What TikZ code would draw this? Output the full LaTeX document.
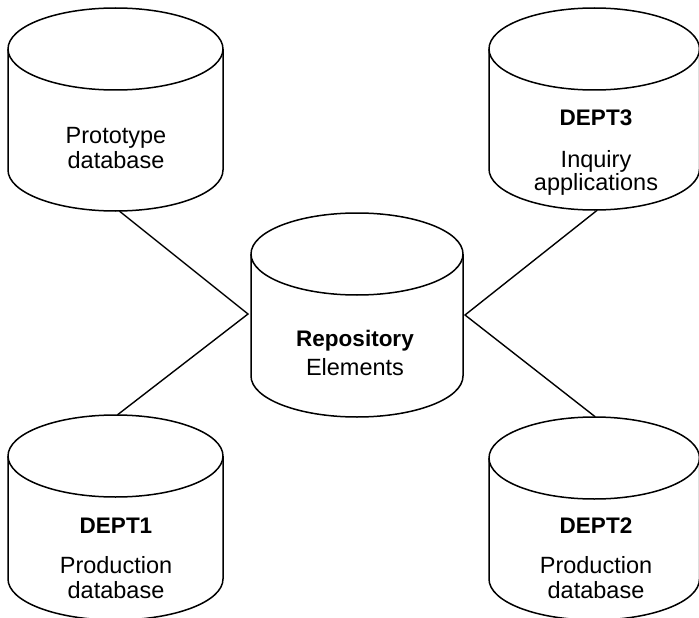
\documentclass[tikz,border=0pt]{standalone}
\usepackage{fontspec}
\setmainfont{Liberation Sans}
\begin{document}
\begin{tikzpicture}[x=1pt,y=-1pt,
  drumline/.style={line width=1.5pt, line join=round},
  link/.style={line width=1.4pt},
  label/.style={anchor=base, inner sep=0pt, font=\fontsize{23.5}{27}\selectfont},
  title/.style={label, font=\fontsize{22.5}{26}\selectfont\bfseries}]
\useasboundingbox (0,0) rectangle (699,618);

% \drum{name}{left}{right}{top}{bottom}: a database drum with an invisible
% node of the same extent, so that connectors can end on its anchors
\newcommand{\drum}[5]{%
  \pgfmathsetmacro\drx{(#3-#2)/2}%
  \pgfmathsetmacro\dcx{(#3+#2)/2}%
  \pgfmathsetmacro\dcy{(#4+#5)/2}%
  \pgfmathsetmacro\dw{#3-#2}%
  \pgfmathsetmacro\dh{#5-#4}%
  \node[inner sep=0pt, minimum width=\dw pt, minimum height=\dh pt] (#1) at (\dcx,\dcy) {};
  \draw[drumline, fill=white] (#2,#4+41) -- (#2,#5-41)
     arc[start angle=180, end angle=360, x radius=\drx pt, y radius=41pt]
     -- (#3,#4+41);
  \draw[drumline] (\dcx,#4+41) ellipse [x radius=\drx pt, y radius=41pt];
}

\drum{proto}{8}{223}{8}{211}
\drum{dept3}{489}{699.5}{8}{210}
\drum{repo}{251}{463}{213}{417}
\drum{dept1}{8}{223}{415}{620}
\drum{dept2}{489}{699.5}{417}{620}

% text inside the drums
\node[label] (protoA) at (116,143) {Prototype};
\node[label] (protoB) at (116,168) {database};

\node[title] (dept3A) at (596,125) {DEPT3};
\node[label] (dept3B) at (596,167) {Inquiry};
\node[label] (dept3C) at (596,190) {applications};

\node[title] (repoA) at (355,346) {Repository};
\node[label] (repoB) at (355,375) {Elements};

\node[title] (dept1A) at (116,533) {DEPT1};
\node[label] (dept1B) at (116,573) {Production};
\node[label] (dept1C) at (116,598) {database};

\node[title] (dept2A) at (596,533) {DEPT2};
\node[label] (dept2B) at (596,573) {Production};
\node[label] (dept2C) at (596,598) {database};

% connectors meeting just beside the central drum
\coordinate (ltip) at (248,314);
\coordinate (rtip) at (465,315);
\draw[link] ([xshift=4pt]proto.south) -- (ltip) -- ([xshift=2pt]dept1.north);
\draw[link] ([xshift=3pt]dept3.south) -- (rtip) -- ([xshift=1pt]dept2.north);
\end{tikzpicture}
\end{document}
